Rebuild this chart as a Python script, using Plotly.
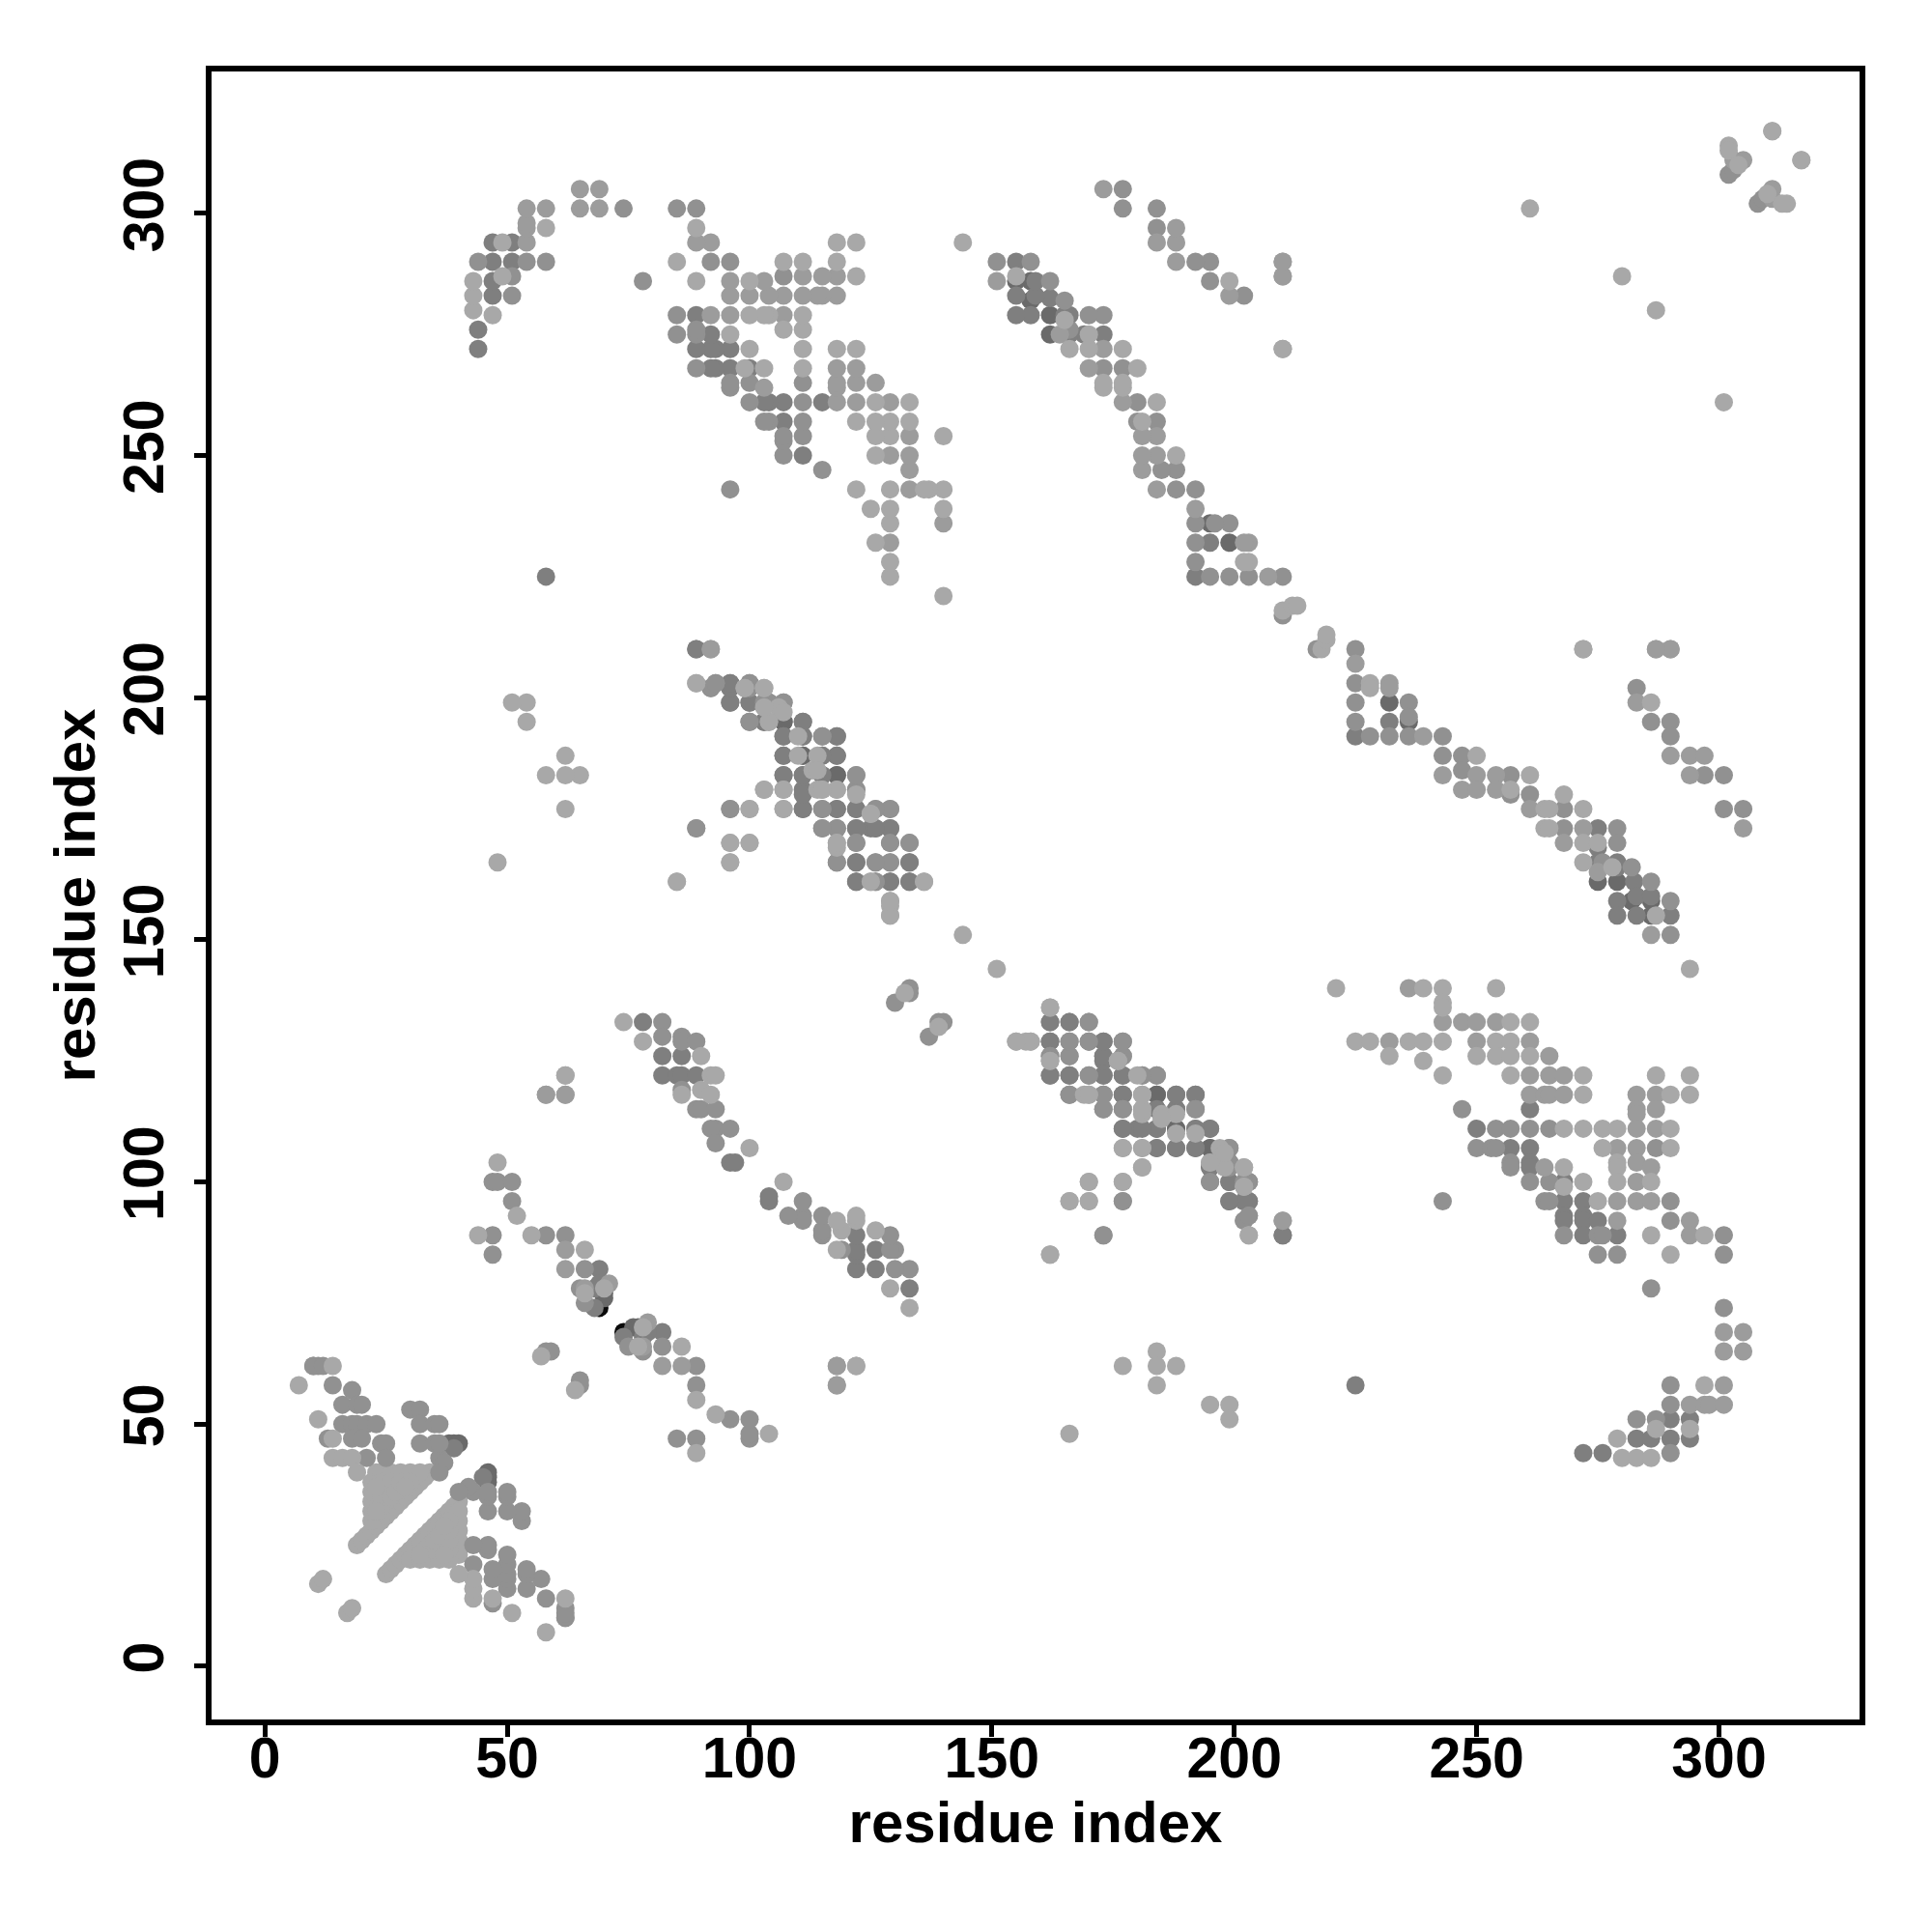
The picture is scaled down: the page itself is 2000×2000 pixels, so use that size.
import plotly.graph_objects as go

x_ticks = [0, 50, 100, 150, 200, 250, 300]
y_ticks = [0, 50, 100, 150, 200, 250, 300]
axis_title = "residue index"

# residue pairs (each contact is drawn at (a,b) and (b,a)), grouped by shade
contacts_core = [(19,25),(20,26),(21,27),(22,28),(23,29),(24,30),(25,31),(26,32),(27,33),(28,34),(29,35),(30,36),(31,37),(32,38),(33,39),(34,40),
 (22,30),(22,32),(22,34),(22,36),(22,38),(23,40),(24,40),(26,40),(28,40),(30,40),(32,40),(25,34),(25,37),(28,37),
 (24,33),(24,35),(24,38),(26,35),(26,38),(27,36),(28,38),(30,38),(29,37),(23,37),(23,32)]

contacts_black = [(69,74)]

contacts_k = [(38,46),(39,46),(40,46),(232,199),(236,195),(275,162),(279,162),(282,158),(286,158),(286,155),
 (111,188),(111,184),(115,184),(118,184),(107,195),(184,118),(188,111),(195,107),(195,103),(70,76),(70,77)]

contacts_d = [(39,45),(69,82),(78,133),(82,126),(86,126),(82,122),(85,122),(86,122),(89,122),(96,104),(97,104),
 (68,78),(69,79),(68,74),(225,58),
 (89,210),(96,203),(96,202),(96,199),(100,203),(100,199),(103,195),(111,195),(107,192),(111,192),(118,192),(107,188),
 (115,188),(118,188),(107,184),(111,181),(111,177),(118,177),(122,177),(122,173),(125,173),(126,173),(129,173),(129,170),
 (118,166),(122,166),(133,166),(122,162),(129,162),(133,162),
 (225,192),(232,195),(275,173),(275,169),(275,166),(279,166),(279,165),(282.5,162),(279,158),(283,159),(286,159),(279,155),(283,155),(290,155),
 (261,115),(250,111),(257,107),(261,107),(261,104),(261,103),(268,100),(268,96),(272,96),(268,93),(268,92),(272,93),(272,92),(275,92),(272,89),(279,89),
 (162,133),(166,133),(162,129),(173,129),(173,126),(162,122),(166,122),(173,122),(177,122),(173,118),(177,118),(188,118),(192,118),
 (184,115),(188,115),(177,111),(180,111),(184,111),(192,111),(195,111),(184,107),(188,107),(192,107),(199,104),(195,100),(199,100),(199,96),(202,96),(203,96),(210,89),
 (272,44),(276,44),(290,51),(294,51),(283,47),(286,47),(290,47),(294,47)]

contacts_m = [(10,62),(11,62),(14,58),(18,57),(16,54),(19,54),(20,54),(16,50),(18,50),(19,50),(21,50),(23,50),(13,47),(18,47),(20,47),
 (24,46),(25,46),(21,43),(25,43),(30,53),(32,53),(32,50),(35,50),(36,50),(32,46),(35,46),(36,43),(37,42),(36,40),(36,46),
 (47,100),(48,100),(51,100),(51,96),(47,89),(47,85),(58,89),(62,89),(66,82),(65,78),(66,75),(58,65),(59,65),
 (82,133),(82,130),(86,130),(86,129),(89,129),(86,119),(89,115),(90,115),(93,115),(93,111),(92,111),(96,111),(93,108),
 (130,137),(133,139),(133,140),
 (92,202),(93,203),(100,202),(103,199),(104,199),(107,199),(100,195),(115,192),(122,184),(122,181),(96,177),(115,177),(126,177),(129,177),
 (89,173),(115,173),(118,173),(122,170),(133,170),(126,166),(129,166),(126,162),
 (210,217),(225,210),(225,203),(225,199),(225,195),(228,192),(232,192),(236,199),(236,196),(236,192),(243,192),(243,188),(247,188),(247,185),
 (257,184),(257,180),(261,180),(268,177),(268,173),(279,173),(279,170),(276,166),(282,165),(286,162),(290,158),(290,151),(283,202),(286,195),(290,195),(290,192),(297,184),(301,184),(301,177),(305,177),
 (247,115),(254,111),(257,111),(261,111),(265,111),(250,107),(253,107),(254,107),(287,107),(257,104),(257,103),(261,100),(265,100),(264,96),(265,96),(290,96),(290,92),
 (268,89),(275,89),(276,89),(275,85),(279,85),(301,89),(301,85),(286,78),(301,74),(243,96),(290,58),
 (170,133),(166,129),(170,129),(177,129),(162,126),(166,126),(177,126),(170,122),(181,122),(184,122),(166,118),(173,115),(177,115),(192,115),(199,107),(203,100),(177,96),(202,92),(203,93),(173,89),
 (290,44),(283,51),(287,51),(290,54),(302,308),(303,309),(62,10),(62,12)]

contacts_n = [(62,86),(62,82),(66,78),(71,79),(62,118),(58,118),(118,62),(122,62),(118,58),(92,210),
 (225,207),(232,203),(232,202),(239,192),(250,184),(243,184),(254,184),(247,181),(250,181),(254,181),(261,177),(272,173),(268,170),(275,164),(286,151),
 (210,290),(210,287),(210,272),(287,210),(290,210),(283,199),(290,188),(294,188),(297,188),(294,184),(305,173),
 (243,133),(247,133),(250,133),(254,133),(232,129),(250,129),(261,129),(265,126),(261,122),(265,122),(268,122),(261,118),(264,118),(265,118),(268,118),(283,118),(287,118),(283,115),(287,115),(283,114),(283,111),(287,111),
 (279,107),(283,107),(264,103),(283,104),(286,103),(283,100),(279,96),(283,96),(286,96),(279,92),(294,92),(294,89),(301,69),(305,69),(301,65),(305,65),(210,92),
 (294,54),(297,54),(298,54),(301,54),(301,58),(303,311),(305,311),(236,140),(162,125),(195,104)]

contacts_l = [(14,62),(7,58),(11,51),(14,47),(14,43),(16,43),(18,43),(19,40),(11,17),(12,18),(57,64),
 (48,104),(44,89),(52,93),(55,89),(66,86),(66,77),(70,78),
 (74,133),(78,129),(90,126),(92,122),(93,122),(90,119),(86,118),(92,118),(100,107),(62,122),(132,139),(144,151),
 (89,203),(99,202),(103,202),(106,198),(104,195),(110,192),(110,188),(114,188),(113,185),(103,181),(107,181),(114,181),(115,181),(118,181),(100,177),(107,177),(125,176),
 (96,170),(100,170),(118,170),(96,166),(85,162),(125,162),(136,162),(129,158),(129,157),(129,155),
 (210,218),(212,219),(213,219),(228,203),(228,202),(250,188),(261,184),(257,181),(268,180),(264,177),(265,177),(272,177),(264,173),(265,173),(272,170),(275,170),(272,166),(278,165),(287,155),
 (294,144),(221,140),(239,140),(243,140),(254,140),(243,137),(243,136),(286,199),(272,210),
 (257,133),(261,133),(225,129),(228,129),(236,129),(239,129),(243,129),(254,129),(257,129),(232,126),(239,125),(250,126),(254,126),(257,126),(261,126),(243,122),(257,122),(272,122),(287,122),(294,122),(272,118),(290,118),(294,118),
 (268,111),(272,111),(276,111),(279,111),(290,111),(276,107),(290,107),(268,103),(279,104),(279,103),(268,99),(272,100),(279,100),(286,100),(275,96),(286,89),(297,89),(290,85),
 (162,136),(155,129),(158,129),(176,125),(169,118),(170,118),(181,118),(181,115),(185,114),(177,107),(181,107),(197,107),(181,103),(198,103),(202,103),(170,100),(177,100),(202,99),(166,96),(170,96),(203,89),(162,85),(180,122),
 (177,62),(184,65),(184,62),(184,58),(188,62),(195,54),(199,54),(199,51),(166,48),(301,261),(280,287),
 (279,47),(280,43),(283,43),(286,43),(287,49),(294,49),(297,58),(311,317),(317,311),(302,314),(302,313),(304,310)]

layers = [
    (contacts_core, "#a8a8a8"),
    (contacts_black, "#0a0a0a"),
    (contacts_k, "#6a6a6a"),
    (contacts_d, "#7f7f7f"),
    (contacts_m, "#919191"),
    (contacts_n, "#9c9c9c"),
    (contacts_l, "#a8a8a8"),
]

fig = go.Figure()
for pairs, colour in layers:
    a = [p[0] for p in pairs]
    b = [p[1] for p in pairs]
    fig.add_trace(go.Scatter(x=a + b, y=b + a, mode="markers",
                             marker=dict(size=19, color=colour, line=dict(width=0)),
                             showlegend=False, hoverinfo="skip"))

tick_font = dict(family="Liberation Sans", size=59, color="black", weight="bold")
title_font = dict(family="Liberation Sans", size=60, color="black", weight="bold")
axis_common = dict(showgrid=False, zeroline=False, showline=True, mirror=True, linecolor="black", linewidth=6,
                   ticks="outside", ticklen=12, tickwidth=5, tickcolor="black", tickfont=tick_font)

fig.update_layout(
    width=2000, height=2000, autosize=False, paper_bgcolor="white", plot_bgcolor="white",
    margin=dict(l=219, r=75, t=74, b=220),
    xaxis=dict(range=[-11.0, 329.0], tickvals=x_ticks, ticktext=[str(v) for v in x_ticks],
               ticklabelstandoff=-29, title=dict(text=axis_title, font=title_font, standoff=10), **axis_common),
    yaxis=dict(range=[-11.0, 329.3], tickvals=y_ticks, ticktext=[str(v) for v in y_ticks], tickangle=-90,
               ticklabelstandoff=8, title=dict(text=axis_title, font=title_font, standoff=0), **axis_common),
)

fig.write_html("out.html", config={"displayModeBar": False}, post_script="document.body.style.margin='0';")
